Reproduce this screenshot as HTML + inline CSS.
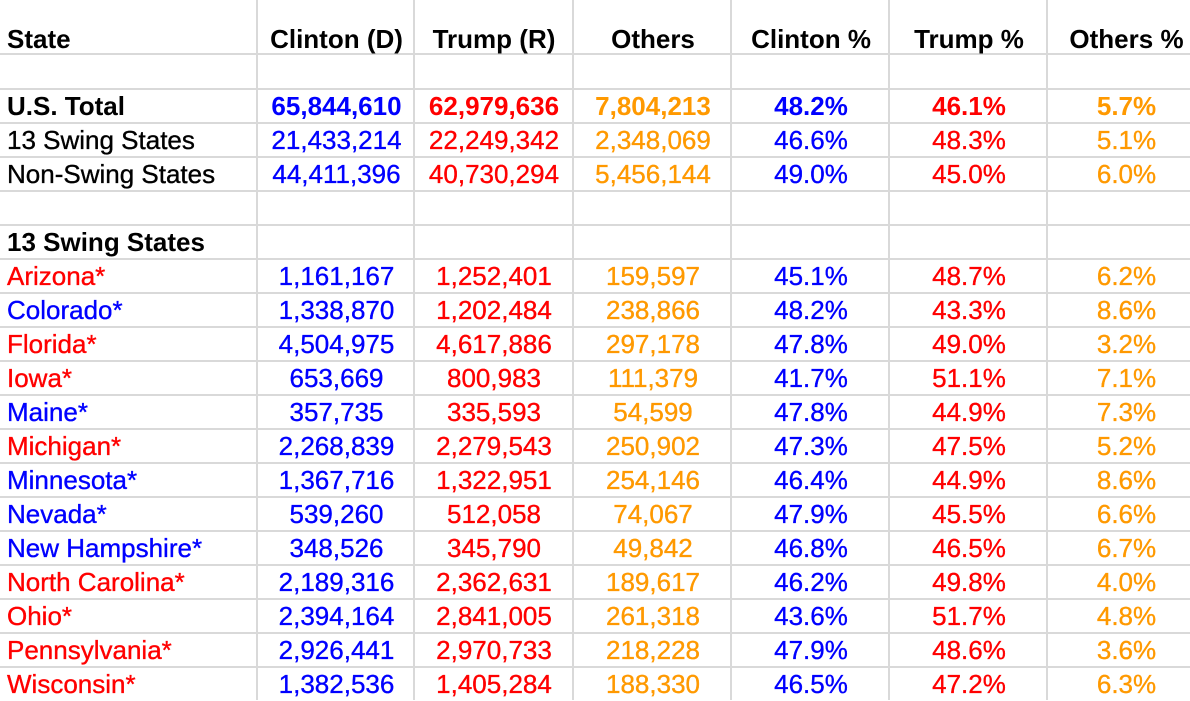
<!DOCTYPE html>
<html>
<head>
<meta charset="utf-8">
<style>
html,body{margin:0;padding:0;background:#fff;}
body{width:1190px;height:700px;overflow:hidden;position:relative;font-family:"Liberation Sans",Arial,sans-serif;}
.h{position:absolute;left:0;width:1190px;height:2px;background:#d9d9d9;}
.v{position:absolute;top:0;width:2px;height:700px;background:#d9d9d9;}
.r{position:absolute;left:0;width:1205px;height:34px;font-size:26px;line-height:34px;white-space:nowrap;-webkit-text-stroke:0.35px currentColor;}
.r span{position:absolute;top:0;text-align:center;}
.r span:nth-child(1){left:7px;width:250px;text-align:left;}
.r span:nth-child(2){left:258px;width:157px;}
.r span:nth-child(3){left:415px;width:158px;}
.r span:nth-child(4){left:574px;width:158px;}
.r span:nth-child(5){left:732px;width:158px;}
.r span:nth-child(6){left:890px;width:158px;}
.r span:nth-child(7){left:1048px;width:157px;}
.b{font-weight:bold;-webkit-text-stroke:0;}
.B{color:#0000ff;}
.R{color:#ff0000;}
.O{color:#ff9900;}
.K{color:#000;}
</style>
</head>
<body>
<div class="h" style="top:53px"></div>
<div class="h" style="top:88px"></div>
<div class="h" style="top:122px"></div>
<div class="h" style="top:156px"></div>
<div class="h" style="top:190px"></div>
<div class="h" style="top:224px"></div>
<div class="h" style="top:258px"></div>
<div class="h" style="top:292px"></div>
<div class="h" style="top:326px"></div>
<div class="h" style="top:360px"></div>
<div class="h" style="top:394px"></div>
<div class="h" style="top:428px"></div>
<div class="h" style="top:462px"></div>
<div class="h" style="top:496px"></div>
<div class="h" style="top:530px"></div>
<div class="h" style="top:564px"></div>
<div class="h" style="top:598px"></div>
<div class="h" style="top:632px"></div>
<div class="h" style="top:666px"></div>

<div class="v" style="left:256px"></div>
<div class="v" style="left:413px"></div>
<div class="v" style="left:572px"></div>
<div class="v" style="left:730px"></div>
<div class="v" style="left:888px"></div>
<div class="v" style="left:1046px"></div>

<div class="r b K" style="top:22px"><span>State</span><span>Clinton (D)</span><span>Trump (R)</span><span>Others</span><span>Clinton %</span><span>Trump %</span><span>Others %</span></div>

<div class="r b" style="top:89px"><span class="K">U.S. Total</span><span class="B">65,844,610</span><span class="R">62,979,636</span><span class="O">7,804,213</span><span class="B">48.2%</span><span class="R">46.1%</span><span class="O">5.7%</span></div>
<div class="r" style="top:123px"><span class="K">13 Swing States</span><span class="B">21,433,214</span><span class="R">22,249,342</span><span class="O">2,348,069</span><span class="B">46.6%</span><span class="R">48.3%</span><span class="O">5.1%</span></div>
<div class="r" style="top:157px"><span class="K">Non-Swing States</span><span class="B">44,411,396</span><span class="R">40,730,294</span><span class="O">5,456,144</span><span class="B">49.0%</span><span class="R">45.0%</span><span class="O">6.0%</span></div>

<div class="r b K" style="top:225px"><span>13 Swing States</span></div>

<div class="r" style="top:259px"><span class="R">Arizona*</span><span class="B">1,161,167</span><span class="R">1,252,401</span><span class="O">159,597</span><span class="B">45.1%</span><span class="R">48.7%</span><span class="O">6.2%</span></div>
<div class="r" style="top:293px"><span class="B">Colorado*</span><span class="B">1,338,870</span><span class="R">1,202,484</span><span class="O">238,866</span><span class="B">48.2%</span><span class="R">43.3%</span><span class="O">8.6%</span></div>
<div class="r" style="top:327px"><span class="R">Florida*</span><span class="B">4,504,975</span><span class="R">4,617,886</span><span class="O">297,178</span><span class="B">47.8%</span><span class="R">49.0%</span><span class="O">3.2%</span></div>
<div class="r" style="top:361px"><span class="R">Iowa*</span><span class="B">653,669</span><span class="R">800,983</span><span class="O">111,379</span><span class="B">41.7%</span><span class="R">51.1%</span><span class="O">7.1%</span></div>
<div class="r" style="top:395px"><span class="B">Maine*</span><span class="B">357,735</span><span class="R">335,593</span><span class="O">54,599</span><span class="B">47.8%</span><span class="R">44.9%</span><span class="O">7.3%</span></div>
<div class="r" style="top:429px"><span class="R">Michigan*</span><span class="B">2,268,839</span><span class="R">2,279,543</span><span class="O">250,902</span><span class="B">47.3%</span><span class="R">47.5%</span><span class="O">5.2%</span></div>
<div class="r" style="top:463px"><span class="B">Minnesota*</span><span class="B">1,367,716</span><span class="R">1,322,951</span><span class="O">254,146</span><span class="B">46.4%</span><span class="R">44.9%</span><span class="O">8.6%</span></div>
<div class="r" style="top:497px"><span class="B">Nevada*</span><span class="B">539,260</span><span class="R">512,058</span><span class="O">74,067</span><span class="B">47.9%</span><span class="R">45.5%</span><span class="O">6.6%</span></div>
<div class="r" style="top:531px"><span class="B">New Hampshire*</span><span class="B">348,526</span><span class="R">345,790</span><span class="O">49,842</span><span class="B">46.8%</span><span class="R">46.5%</span><span class="O">6.7%</span></div>
<div class="r" style="top:565px"><span class="R">North Carolina*</span><span class="B">2,189,316</span><span class="R">2,362,631</span><span class="O">189,617</span><span class="B">46.2%</span><span class="R">49.8%</span><span class="O">4.0%</span></div>
<div class="r" style="top:599px"><span class="R">Ohio*</span><span class="B">2,394,164</span><span class="R">2,841,005</span><span class="O">261,318</span><span class="B">43.6%</span><span class="R">51.7%</span><span class="O">4.8%</span></div>
<div class="r" style="top:633px"><span class="R">Pennsylvania*</span><span class="B">2,926,441</span><span class="R">2,970,733</span><span class="O">218,228</span><span class="B">47.9%</span><span class="R">48.6%</span><span class="O">3.6%</span></div>
<div class="r" style="top:667px"><span class="R">Wisconsin*</span><span class="B">1,382,536</span><span class="R">1,405,284</span><span class="O">188,330</span><span class="B">46.5%</span><span class="R">47.2%</span><span class="O">6.3%</span></div>
</body>
</html>
